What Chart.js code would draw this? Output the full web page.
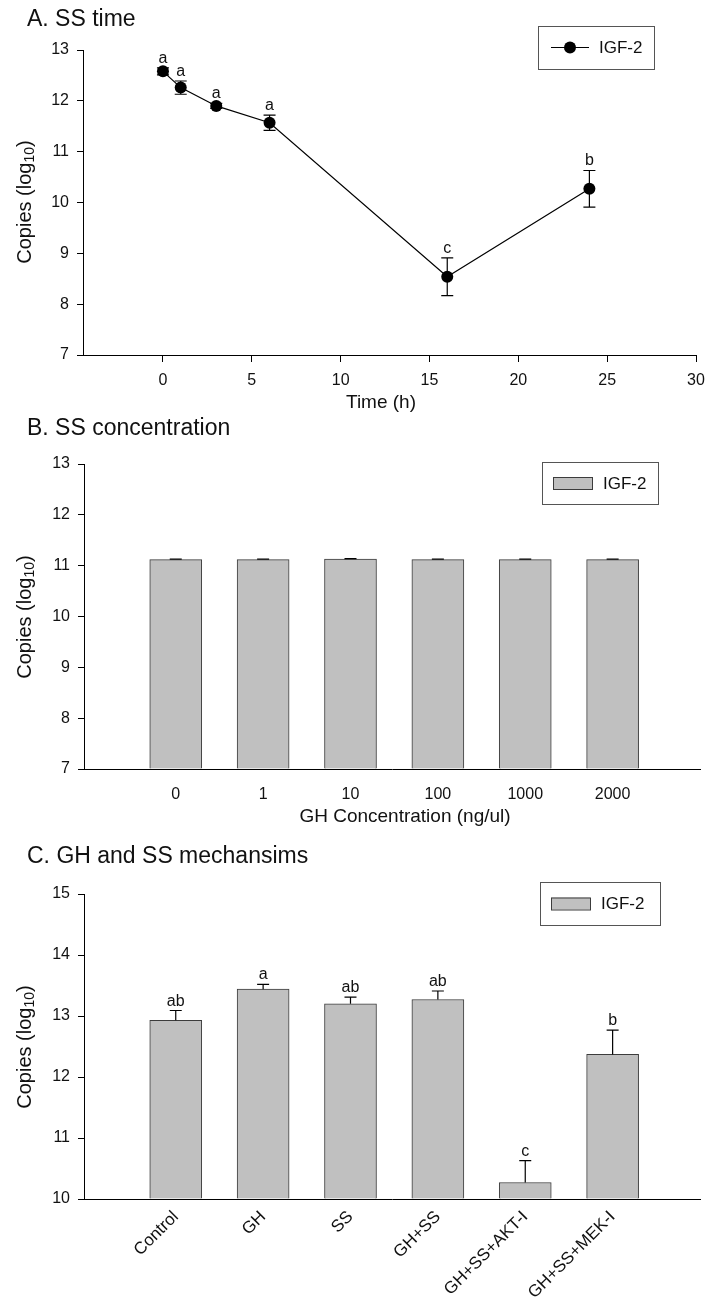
<!DOCTYPE html>
<html><head><meta charset="utf-8">
<script src="https://cdn.jsdelivr.net/npm/chart.js@4.4.0/dist/chart.umd.min.js"></script>
<style>
html,body{margin:0;padding:0;background:#fff;}
body{width:706px;height:1300px;position:relative;overflow:hidden;}
canvas{position:absolute;left:0;top:0;}
</style></head><body>
<canvas id="cA" width="706" height="1300"></canvas>
<canvas id="cB" width="706" height="1300"></canvas>
<canvas id="cC" width="706" height="1300"></canvas>
<script>
// ---------- data ----------
const seriesName = 'IGF-2';

// Panel A: SS time
const timeHours   = [0, 1, 3, 6, 16, 24];
const timeMeans   = [12.58, 12.26, 11.90, 11.57, 8.54, 10.27];
const timeErrors  = [0.07, 0.13, 0.05, 0.15, 0.37, 0.36];
const timeLetters = ['a', 'a', 'a', 'a', 'c', 'b'];
const timeXTicks  = [0, 5, 10, 15, 20, 25, 30];
const timeYTicks  = [7, 8, 9, 10, 11, 12, 13];

// Panel B: SS concentration
const concLabels  = ['0', '1', '10', '100', '1000', '2000'];
const concMeans   = [11.12, 11.12, 11.13, 11.12, 11.12, 11.12];
const concErrors  = [0.01, 0.01, 0.01, 0.01, 0.01, 0.01];
const concYTicks  = [7, 8, 9, 10, 11, 12, 13];

// Panel C: GH and SS mechanisms
const mechLabels  = ['Control', 'GH', 'SS', 'GH+SS', 'GH+SS+AKT-I', 'GH+SS+MEK-I'];
const mechMeans   = [12.93, 13.44, 13.20, 13.27, 10.27, 12.37];
const mechErrors  = [0.16, 0.08, 0.11, 0.14, 0.36, 0.40];
const mechLetters = ['ab', 'a', 'ab', 'ab', 'c', 'b'];
const mechYTicks  = [10, 11, 12, 13, 14, 15];

// ---------- style ----------
const FONT = '"Liberation Sans", Arial, Helvetica, sans-serif';
const INK = '#111';
const BAR_FILL = '#c0c0c0';
const BAR_EDGE = '#3c3c3c';
function f(sz) { return sz + 'px ' + FONT; }

Chart.defaults.font.family = FONT;
Chart.defaults.color = INK;

function zeroPad(s) { s.paddingLeft = 0; s.paddingRight = 0; s.paddingTop = 0; s.paddingBottom = 0; }

function drawYTitle(ctx, cx, cy) {
  const a = 'Copies (log', s = '10', b = ')';
  ctx.save();
  ctx.translate(cx, cy);
  ctx.rotate(-Math.PI / 2);
  ctx.fillStyle = INK;
  ctx.textBaseline = 'middle';
  ctx.textAlign = 'left';
  ctx.font = f(20); const wa = ctx.measureText(a).width; const wb = ctx.measureText(b).width;
  ctx.font = f(14); const ws = ctx.measureText(s).width;
  let x = -(wa + ws + wb) / 2;
  ctx.font = f(20); ctx.fillText(a, x, 0); x += wa;
  ctx.font = f(14); ctx.fillText(s, x, 5); x += ws;
  ctx.font = f(20); ctx.fillText(b, x, 0);
  ctx.restore();
}

function makePanel(cfg) {
  function errorBars(chart) {
    const ctx = chart.ctx, xs = chart.scales.x, ys = chart.scales.y;
    ctx.save();
    ctx.strokeStyle = '#000';
    ctx.lineWidth = 1.2;
    cfg.means.forEach((m, i) => {
      const px = xs.getPixelForValue(cfg.xs[i]);
      const top = ys.getPixelForValue(m + cfg.errors[i]);
      const mid = ys.getPixelForValue(m);
      const bot = cfg.both ? ys.getPixelForValue(m - cfg.errors[i]) : mid;
      ctx.beginPath();
      ctx.moveTo(px, top); ctx.lineTo(px, bot);
      ctx.moveTo(px - 6, top); ctx.lineTo(px + 6, top);
      if (cfg.both) { ctx.moveTo(px - 6, bot); ctx.lineTo(px + 6, bot); }
      ctx.stroke();
    });
    ctx.restore();
  }
  function letters(chart) {
    if (!cfg.letters) return;
    const ctx = chart.ctx, xs = chart.scales.x, ys = chart.scales.y;
    ctx.save();
    ctx.fillStyle = INK;
    ctx.font = f(16);
    ctx.textAlign = 'center';
    ctx.textBaseline = 'alphabetic';
    cfg.letters.forEach((t, i) => {
      const px = xs.getPixelForValue(cfg.xs[i]);
      const top = ys.getPixelForValue(cfg.means[i] + cfg.errors[i]);
      ctx.fillText(t, px, top - 5);
    });
    ctx.restore();
  }
  return {
    id: 'panel_' + cfg.key,
    beforeDatasetsDraw(chart) { if (cfg.both) errorBars(chart); },
    afterDatasetsDraw(chart) { if (!cfg.both) errorBars(chart); letters(chart); },
    afterDraw(chart) {
      const ctx = chart.ctx;
      ctx.save();
      // panel title
      ctx.fillStyle = INK;
      ctx.font = f(23);
      ctx.textAlign = 'left';
      ctx.textBaseline = 'alphabetic';
      ctx.fillText(cfg.title, 27, cfg.titleY);
      // x title
      if (cfg.xTitle) {
        ctx.font = f(19);
        ctx.textAlign = 'center';
        ctx.fillText(cfg.xTitle, cfg.xTitleX, cfg.xTitleY);
      }
      // legend
      const L = cfg.legend;
      ctx.strokeStyle = '#555';
      ctx.lineWidth = 1;
      ctx.strokeRect(L.x + 0.5, L.y + 0.5, L.w, L.h);
      const cy = L.y + L.h / 2;
      if (cfg.both) {
        ctx.strokeStyle = '#000';
        ctx.beginPath(); ctx.moveTo(L.x + 13, cy); ctx.lineTo(L.x + 51, cy); ctx.stroke();
        ctx.fillStyle = '#000';
        ctx.beginPath(); ctx.arc(L.x + 32, cy, 6, 0, Math.PI * 2); ctx.fill();
      } else {
        ctx.fillStyle = BAR_FILL;
        ctx.fillRect(L.x + 11, cy - 6, 39, 12);
        ctx.strokeStyle = BAR_EDGE;
        ctx.strokeRect(L.x + 11.5, cy - 5.5, 39, 12);
      }
      ctx.fillStyle = INK;
      ctx.font = f(17);
      ctx.textAlign = 'left';
      ctx.textBaseline = 'middle';
      ctx.fillText(seriesName, L.x + 61, cy + 1);
      ctx.restore();
      drawYTitle(ctx, 25, cfg.yTitleY);
    }
  };
}

function yAxis(ticks, width) {
  return {
    type: 'linear', min: ticks[0], max: ticks[ticks.length - 1],
    afterBuildTicks: s => { s.ticks = ticks.map(v => ({ value: v })); },
    afterFit: s => { s.width = width; zeroPad(s); },
    grid: { drawOnChartArea: false, drawTicks: true, tickLength: 6, color: '#000', lineWidth: 1 },
    border: { display: true, color: '#000', width: 1 },
    ticks: { font: { size: 16 }, color: INK, padding: 8 }
  };
}

// ---------- Panel A ----------
new Chart(document.getElementById('cA'), {
  type: 'line',
  data: {
    datasets: [{
      label: seriesName,
      data: timeHours.map((h, i) => ({ x: h, y: timeMeans[i] })),
      borderColor: '#000', borderWidth: 1.2,
      pointRadius: 6, pointBackgroundColor: '#000', pointBorderColor: '#000', pointBorderWidth: 0,
      tension: 0, fill: false
    }]
  },
  options: {
    responsive: false, devicePixelRatio: 1, animation: false,
    layout: { padding: { left: 33, top: 50, right: 10, bottom: 1300 - 355 - 34 } },
    scales: {
      x: {
        type: 'linear', min: -4.5, max: 30, offset: false,
        afterBuildTicks: s => { s.ticks = timeXTicks.map(v => ({ value: v })); },
        afterFit: s => { s.height = 34; zeroPad(s); },
        grid: { drawOnChartArea: false, drawTicks: true, tickLength: 7, color: '#000', offset: false },
        border: { display: true, color: '#000', width: 1 },
        ticks: { font: { size: 16 }, color: INK, padding: 9, maxRotation: 0 }
      },
      y: yAxis(timeYTicks, 50)
    },
    plugins: { legend: { display: false }, tooltip: { enabled: false } }
  },
  plugins: [makePanel({
    key: 'A', both: true, xs: timeHours, means: timeMeans, errors: timeErrors, letters: timeLetters,
    title: 'A. SS time', titleY: 26, xTitle: 'Time (h)', xTitleX: 381, xTitleY: 408,
    yTitleY: 202, legend: { x: 538, y: 26, w: 116, h: 43 }
  })]
});

// ---------- Panel B ----------
new Chart(document.getElementById('cB'), {
  type: 'bar',
  data: {
    datasets: [{
      label: seriesName,
      data: concMeans.map((v, i) => ({ x: i + 1, y: v })),
      backgroundColor: BAR_FILL, borderColor: BAR_EDGE, borderWidth: 1,
      base: concYTicks[0], barThickness: 52
    }]
  },
  options: {
    responsive: false, devicePixelRatio: 1, animation: false,
    layout: { padding: { left: 34, top: 464, right: 6, bottom: 1300 - 769 - 30 } },
    scales: {
      x: {
        type: 'linear', min: -0.05, max: 7, offset: false,
        afterBuildTicks: s => { s.ticks = concLabels.map((_, i) => ({ value: i + 1 })); },
        afterFit: s => { s.height = 30; zeroPad(s); },
        grid: { display: false, drawTicks: false, offset: false },
        border: { display: true, color: '#000', width: 1 },
        ticks: { font: { size: 16 }, color: INK, padding: 16, maxRotation: 0, autoSkip: false,
                 callback: (v, i) => concLabels[i] }
      },
      y: yAxis(concYTicks, 50)
    },
    plugins: { legend: { display: false }, tooltip: { enabled: false } }
  },
  plugins: [makePanel({
    key: 'B', both: false, xs: concLabels.map((_, i) => i + 1), means: concMeans, errors: concErrors, letters: null,
    title: 'B. SS concentration', titleY: 435, xTitle: 'GH Concentration (ng/ul)', xTitleX: 405, xTitleY: 822,
    yTitleY: 617, legend: { x: 542, y: 462, w: 116, h: 42 }
  })]
});

// ---------- Panel C ----------
new Chart(document.getElementById('cC'), {
  type: 'bar',
  data: {
    datasets: [{
      label: seriesName,
      data: mechMeans.map((v, i) => ({ x: i + 1, y: v })),
      backgroundColor: BAR_FILL, borderColor: BAR_EDGE, borderWidth: 1,
      base: mechYTicks[0], barThickness: 52
    }]
  },
  options: {
    responsive: false, devicePixelRatio: 1, animation: false,
    layout: { padding: { left: 34, top: 894, right: 6, bottom: 1300 - 1199 - 100 } },
    scales: {
      x: {
        type: 'linear', min: -0.05, max: 7, offset: false,
        afterBuildTicks: s => { s.ticks = mechLabels.map((_, i) => ({ value: i + 1 })); },
        afterFit: s => { s.height = 100; zeroPad(s); },
        grid: { display: false, drawTicks: false, offset: false },
        border: { display: true, color: '#000', width: 1 },
        ticks: { font: { size: 17 }, color: INK, padding: 8, minRotation: 45, maxRotation: 45, autoSkip: false,
                 callback: (v, i) => mechLabels[i] }
      },
      y: yAxis(mechYTicks, 50)
    },
    plugins: { legend: { display: false }, tooltip: { enabled: false } }
  },
  plugins: [makePanel({
    key: 'C', both: false, xs: mechLabels.map((_, i) => i + 1), means: mechMeans, errors: mechErrors, letters: mechLetters,
    title: 'C. GH and SS mechansims', titleY: 863, xTitle: null,
    yTitleY: 1047, legend: { x: 540, y: 882, w: 120, h: 43 }
  })]
});
</script>
</body></html>
